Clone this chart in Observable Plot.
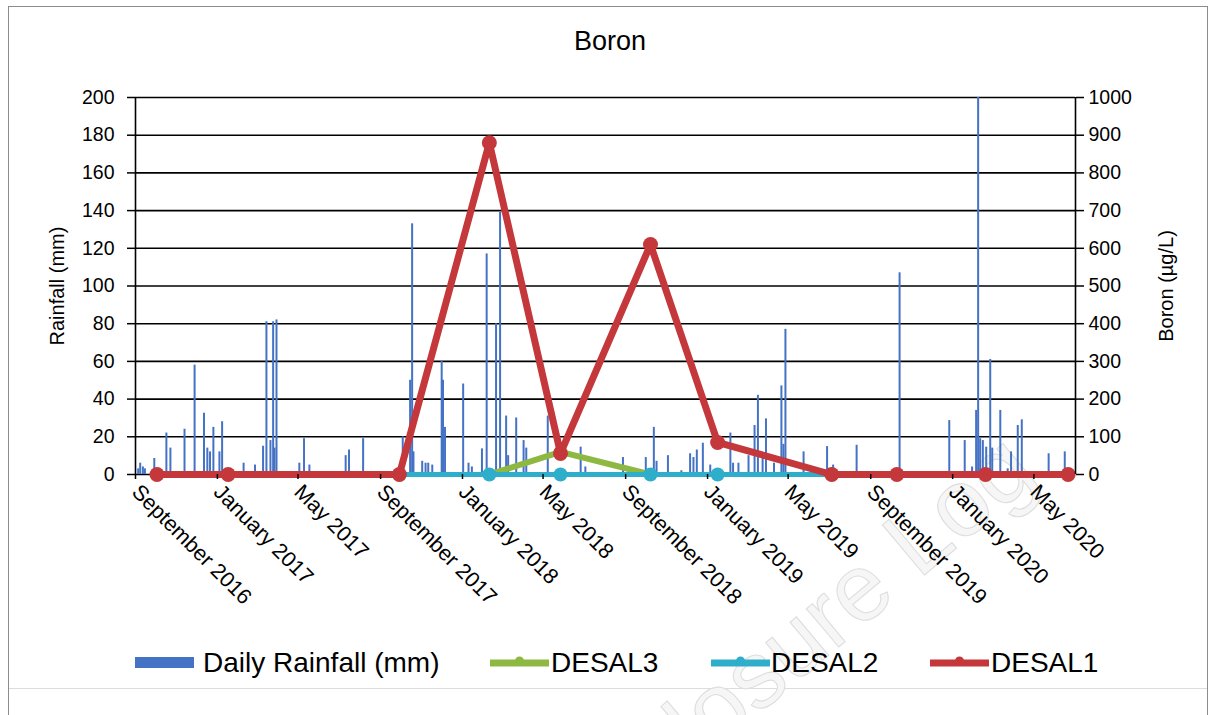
<!DOCTYPE html>
<html><head><meta charset="utf-8">
<script src="https://cdn.jsdelivr.net/npm/d3@7"></script>
<script src="https://cdn.jsdelivr.net/npm/@observablehq/plot@0.6"></script>
<style>
body{margin:0;background:#fff;font-family:"Liberation Sans",Arial,sans-serif;}
#wrap{position:relative;width:1211px;height:715px;overflow:hidden;background:#fff;}
#frame{position:absolute;left:8px;top:6px;width:1198px;height:760px;border:1px solid #8c8c8c;}
#foot{position:absolute;left:9px;top:688px;width:1198px;height:1px;background:#dcdcdc;}
#chart{position:absolute;left:0;top:0;}
#title{position:absolute;top:28px;left:0;width:1220px;text-align:center;font-size:27px;line-height:1;color:#000;}
.lt{position:absolute;top:649px;font-size:28px;line-height:1;color:#000;white-space:nowrap;}
.sw{position:absolute;top:648px;}
#wm{position:absolute;left:0;top:0;pointer-events:none;}
</style></head><body>
<div id="wrap">
  <div id="frame"></div>
  <div id="foot"></div>
  <svg id="wm" width="1211" height="715"></svg>
  <div id="chart"></div>
  <div id="title">Boron</div>
  <div id="legend"></div>
</div>
<script>
// ---- data ----
const rainDates = ["2016-09-05","2016-09-08","2016-09-12","2016-09-15","2016-09-29","2016-10-17","2016-10-23","2016-11-13","2016-11-28","2016-12-12","2016-12-17","2016-12-21","2016-12-26","2017-01-04","2017-01-08","2017-02-09","2017-02-26","2017-03-10","2017-03-15","2017-03-21","2017-03-25","2017-03-27","2017-03-30","2017-05-03","2017-05-10","2017-05-18","2017-07-11","2017-07-16","2017-08-06","2017-10-04","2017-10-15","2017-10-18","2017-10-20","2017-11-02","2017-11-07","2017-11-11","2017-11-17","2017-12-01","2017-12-03","2017-12-06","2018-01-02","2018-01-10","2018-01-15","2018-01-30","2018-02-06","2018-02-20","2018-02-26","2018-03-07","2018-03-10","2018-03-22","2018-04-02","2018-04-06","2018-05-08","2018-06-26","2018-07-03","2018-08-28","2018-10-01","2018-10-13","2018-10-17","2018-11-03","2018-11-23","2018-12-06","2018-12-11","2018-12-16","2018-12-25","2019-01-05","2019-02-04","2019-02-08","2019-02-16","2019-03-03","2019-03-12","2019-03-17","2019-03-24","2019-03-29","2019-04-10","2019-04-21","2019-04-24","2019-04-27","2019-05-24","2019-06-28","2019-07-07","2019-08-11","2019-10-14","2019-12-27","2020-01-19","2020-01-30","2020-02-05","2020-02-08","2020-02-11","2020-02-15","2020-02-20","2020-02-26","2020-02-29","2020-03-12","2020-03-23","2020-03-28","2020-04-07","2020-04-13","2020-05-23","2020-06-16"];
const rainMm = [3,6,4,3,8.5,22,14,24,58,32.5,14,12,25,12,28,6,5,15,81,18,81,14,82,6,19,5,10,13,19,20,50,133,12,7,6,6,5,60,50,25,48,6,4,13.6,117,80,139,31,10,30,18,14,31,14.5,4,9,9,25,7,10,2,11,9,13,16.6,5,22,6,6,10,26,42,10,29.5,6,47,16,77,12,14.8,5,15.5,107,28.6,18,4,34,200,19,18,14.5,61,14,34,3,12,26,29,11,12];

const desal1Dates = ["2016-10-03","2017-01-17","2017-09-29","2018-02-10","2018-05-27","2018-10-08","2019-01-16","2019-07-05","2019-10-10","2020-02-19","2020-06-21"];
const desal1 = [0,0,0,880,56,610,85,0,0,0,0];
const desal2Dates = ["2017-09-29","2018-02-10","2018-05-27","2018-10-08","2019-01-16","2019-07-05"];
const desal2 = [0,0,0,0,0,0];
const desal3Dates = ["2018-02-10","2018-05-27","2018-10-08"];
const desal3 = [0,60,0];

const rainTicks = [0,20,40,60,80,100,120,140,160,180,200];
const boronTicks = [0,100,200,300,400,500,600,700,800,900,1000];
const xTickDates = ["2016-09-01","2017-01-01","2017-05-01","2017-09-01","2018-01-01","2018-05-01","2018-09-01","2019-01-01","2019-05-01","2019-09-01","2020-01-01","2020-05-01"];
const xDomain = ["2016-09-01","2020-07-02"];

// ---- build ----
const parse = d3.utcParse("%Y-%m-%d");
const k = d3.max(rainTicks) / d3.max(boronTicks);
const rain = rainDates.map((d, i) => ({date: parse(d), mm: rainMm[i]}));
const mk = (dates, vals) => dates.map((d, i) => ({date: parse(d), v: vals[i] * k}));
const series = [
  {name: "DESAL3", data: mk(desal3Dates, desal3), color: "#8DB842", w: 6, r: 6.5},
  {name: "DESAL2", data: mk(desal2Dates, desal2), color: "#2EAECB", w: 5, r: 7},
  {name: "DESAL1", data: mk(desal1Dates, desal1), color: "#C4383B", w: 7, r: 7.5}
];
const fontFam = "Liberation Sans, Arial, sans-serif";
const xd = xDomain.map(parse);

const marks = [
  Plot.ruleY(rainTicks, {stroke: "#000", strokeWidth: 1.6}),
  Plot.ruleX(rain, {x: "date", y1: 0, y2: "mm", stroke: "#4472C4", strokeWidth: 2, clip: true})
];
for (const s of series) {
  marks.push(Plot.line(s.data, {x: "date", y: "v", stroke: s.color, strokeWidth: s.w, strokeLinejoin: "round"}));
  marks.push(Plot.dot(s.data, {x: "date", y: "v", r: s.r, fill: s.color, stroke: "none"}));
}
marks.push(
  Plot.ruleX([xd[0]], {stroke: "#000", strokeWidth: 1.6}),
  Plot.ruleX([xd[1]], {stroke: "#000", strokeWidth: 1.6}),
  Plot.axisY(rainTicks, {anchor: "left", tickSize: 8, tickPadding: 13, label: null, fontSize: 19.5, strokeWidth: 1.5}),
  Plot.axisY(rainTicks, {anchor: "right", tickSize: 8, tickPadding: 5, label: null, fontSize: 19.5, strokeWidth: 1.5, tickFormat: d => String(Math.round(d / k))}),
  Plot.axisX(xTickDates.map(parse), {anchor: "bottom", tickSize: 5, tickPadding: 9, tickRotate: 45, label: null, fontSize: 21.5, strokeWidth: 1.5, tickFormat: d3.utcFormat("%B %Y")}),
  Plot.text(["Rainfall (mm)"], {frameAnchor: "left", text: d => d, rotate: -90, textAnchor: "middle", dx: -78, fontSize: 20, fill: "#000"}),
  Plot.text(["Boron (µg/L)"], {frameAnchor: "right", text: d => d, rotate: -90, textAnchor: "middle", dx: 91, fontSize: 20, fill: "#000"})
);

const chart = Plot.plot({
  width: 1211, height: 620,
  marginLeft: 135, marginRight: 136, marginTop: 97, marginBottom: 146,
  style: {fontFamily: fontFam, fontSize: "19px", color: "#000", background: "transparent", overflow: "visible"},
  x: {type: "utc", domain: xd},
  y: {domain: [0, 200]},
  marks
});
document.getElementById("chart").appendChild(chart);

// ---- legend ----
const legend = document.getElementById("legend");
const items = [
  {label: "Daily Rainfall (mm)", type: "bar", color: "#4472C4", sx: 135, tx: 203},
  {label: "DESAL3", type: "line", color: "#8DB842", sx: 490, tx: 551},
  {label: "DESAL2", type: "line", color: "#2EAECB", sx: 711, tx: 771},
  {label: "DESAL1", type: "line", color: "#C4383B", sx: 930, tx: 991}
];
for (const it of items) {
  const sw = document.createElementNS("http://www.w3.org/2000/svg", "svg");
  sw.setAttribute("class", "sw");
  sw.setAttribute("width", 59); sw.setAttribute("height", 30);
  sw.style.left = it.sx + "px";
  if (it.type === "bar") {
    sw.innerHTML = `<rect x="0" y="9" width="59" height="11" fill="${it.color}"/>`;
  } else {
    sw.innerHTML = `<line x1="0" x2="59" y1="15" y2="15" stroke="${it.color}" stroke-width="7"/><circle cx="29.5" cy="13" r="4.5" fill="${it.color}"/>`;
  }
  legend.appendChild(sw);
  const t = document.createElement("div");
  t.className = "lt"; t.textContent = it.label; t.style.left = it.tx + "px";
  legend.appendChild(t);
}

// ---- watermark (faint, partly outside the page as in the source) ----
document.getElementById("wm").innerHTML =
  `<text x="1040" y="478" text-anchor="end" transform="rotate(-40 1040 478)" font-family="${fontFam}" font-size="95" fill="#f6f6f6" stroke="#dedede" stroke-width="1.1">Disclosure Log</text>`;
</script>
</body></html>
